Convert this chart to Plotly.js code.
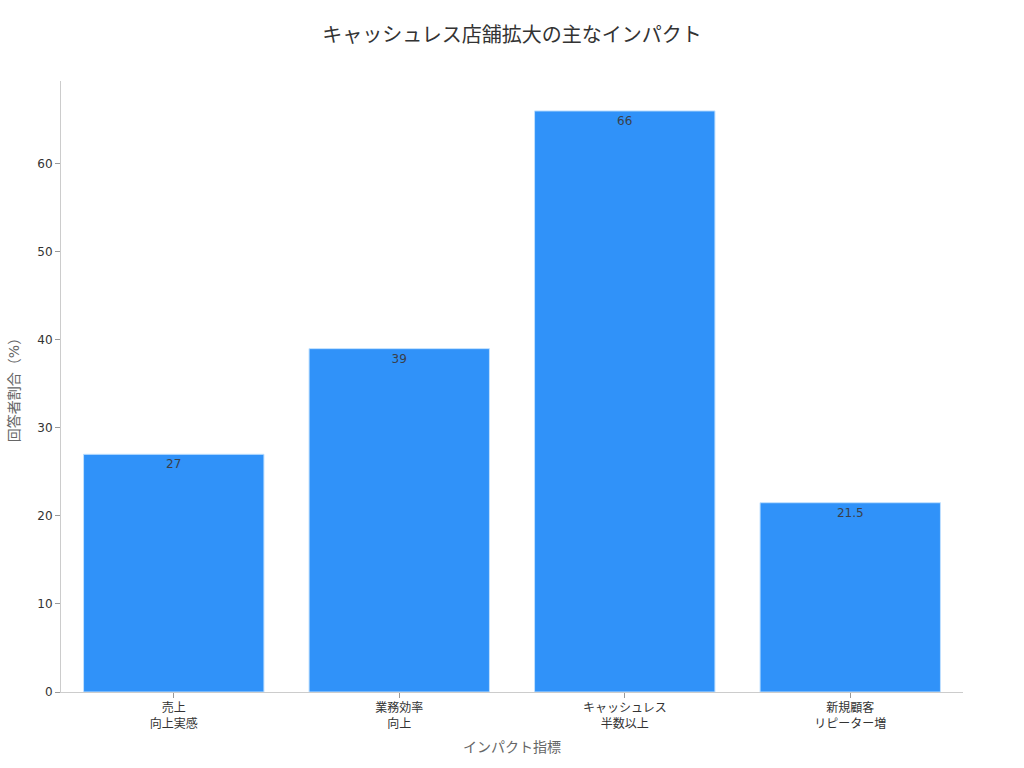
<!DOCTYPE html>
<html>
<head>
<meta charset="utf-8">
<script src="https://cdn.plot.ly/plotly-3.0.1.min.js"></script>
<style>html,body{margin:0;padding:0;background:#fff;}#chart{width:1024px;height:768px;}</style>
</head>
<body>
<div id="chart"></div>
<script>
const categories = ["売上<br>向上実感", "業務効率<br>向上", "キャッシュレス<br>半数以上", "新規顧客<br>リピーター増"];
const values = [27, 39, 66, 21.5];
const labels = ["27", "39", "66", "21.5"];

const FONT = "DejaVu Sans, Noto Sans CJK JP, sans-serif";

const trace = {
  type: "bar",
  x: categories,
  y: values,
  text: labels,
  textposition: "inside",
  insidetextanchor: "end",
  textangle: 0,
  textfont: {family: FONT, size: 12, color: "#3a3f4a"},
  marker: {color: "#3092F9", line: {color: "#BFE0FF", width: 1}},
  hoverinfo: "none"
};

const layout = {
  width: 1024,
  height: 768,
  margin: {l: 61, r: 61, t: 81, b: 76},
  paper_bgcolor: "#ffffff",
  plot_bgcolor: "#ffffff",
  font: {family: FONT, size: 12, color: "#333333"},
  title: {text: "キャッシュレス店舗拡大の主なインパクト", x: 0.5, xanchor: "center", y: 0.955, yanchor: "middle",
          font: {family: FONT, size: 20, color: "#333333"}},
  bargap: 0.2,
  showlegend: false,
  xaxis: {
    title: {text: "インパクト指標", font: {family: FONT, size: 14, color: "#666666"}, standoff: 12},
    showline: true, linecolor: "#cccccc", linewidth: 1,
    ticks: "outside", tickcolor: "#999999", ticklen: 5,
    tickfont: {family: FONT, size: 12, color: "#333333"},
    showgrid: false, zeroline: false
  },
  yaxis: {
    title: {text: "回答者割合（%）", font: {family: FONT, size: 14, color: "#666666"}, standoff: 14},
    range: [0, 69.4],
    dtick: 10,
    showline: true, linecolor: "#cccccc", linewidth: 1,
    ticks: "outside", tickcolor: "#999999", ticklen: 5,
    tickfont: {family: FONT, size: 12, color: "#333333"},
    showgrid: false, zeroline: false
  }
};

Plotly.newPlot("chart", [trace], layout, {displayModeBar: false, staticPlot: true});
</script>
</body>
</html>
